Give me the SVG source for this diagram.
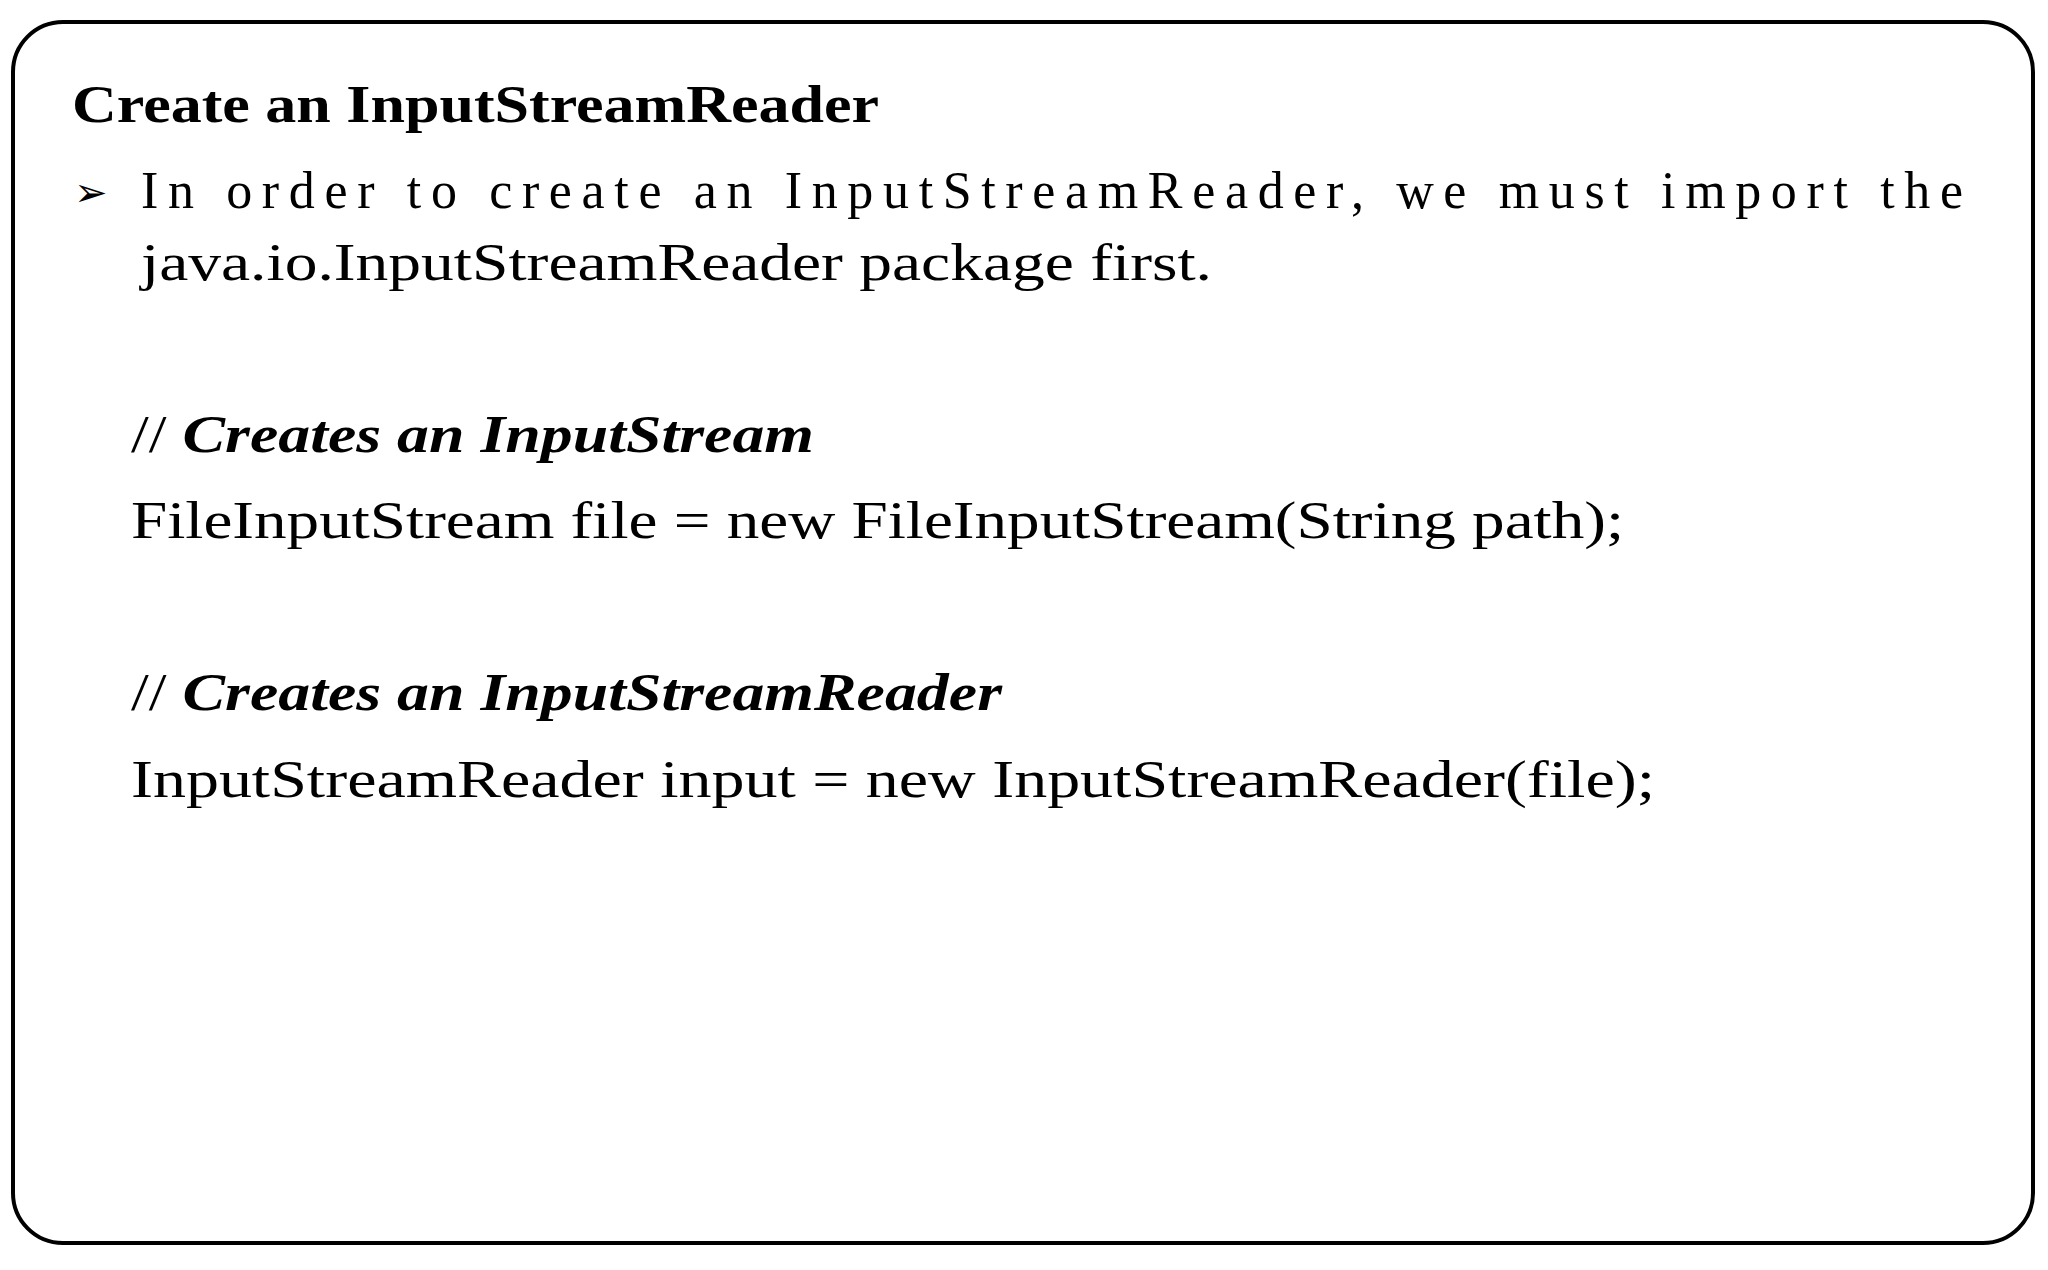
<svg xmlns="http://www.w3.org/2000/svg" width="2048" height="1270" viewBox="0 0 2048 1270">
<style>
text{font-family:"Liberation Serif","DejaVu Serif",serif;font-size:52px;fill:#000}
.b{font-weight:bold}
.i{font-weight:bold;font-style:italic}
</style>
<rect width="2048" height="1270" fill="#fff"/>
<g id="frame"><rect x="13" y="22" width="2020" height="1221" rx="50" fill="none" stroke="#000" stroke-width="4"/></g>
<g id="content">
<text class="b" x="72" y="122" textLength="807" lengthAdjust="spacingAndGlyphs">Create an InputStreamReader</text>
<text x="74" y="206" font-family="DejaVu Sans" style="font-family:'DejaVu Sans';font-size:40px">➢</text>
<text x="141" y="208" textLength="1822" lengthAdjust="spacing">In order to create an InputStreamReader, we must import the</text>
<text x="141" y="280" textLength="1071" lengthAdjust="spacingAndGlyphs">java.io.InputStreamReader package first.</text>
<text x="131" y="452" textLength="683" lengthAdjust="spacingAndGlyphs">// <tspan class="i">Creates an InputStream</tspan></text>
<text x="131" y="538" textLength="1493" lengthAdjust="spacingAndGlyphs">FileInputStream file = new FileInputStream(String path);</text>
<text x="131" y="710" textLength="871" lengthAdjust="spacingAndGlyphs">// <tspan class="i">Creates an InputStreamReader</tspan></text>
<text x="131" y="797" textLength="1524" lengthAdjust="spacingAndGlyphs">InputStreamReader input = new InputStreamReader(file);</text>
</g>
</svg>
